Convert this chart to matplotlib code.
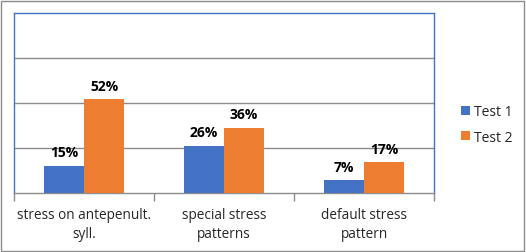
import matplotlib.pyplot as plt
import numpy as np
from matplotlib.patches import Rectangle

categories = ["stress on antepenult.\nsyll.", "special stress\npatterns", "default stress\npattern"]
test1 = [0.15, 0.26, 0.07]
test2 = [0.52, 0.36, 0.17]
series_names = ["Test 1", "Test 2"]

blue = "#4472C4"
orange = "#ED7D31"
plt.rcParams['font.family'] = ['Open Sans', 'DejaVu Sans']

W, H = 526, 253
fig = plt.figure(figsize=(W / 100, H / 100), dpi=100)
fig.patches.append(Rectangle((1 / W, 1 / H), (W - 3) / W, (H - 3) / H, transform=fig.transFigure,
                             fill=False, edgecolor="#8c8c8c", linewidth=1))

# plot area in pixels: x 14..434, y 14..194
ax = fig.add_axes([14 / W, (H - 194) / H, 420 / W, 180 / H])

x = np.arange(len(categories))
bw = 40 / 140
b1 = ax.bar(x - bw / 2, test1, bw, color=blue, label=series_names[0], zorder=3)
b2 = ax.bar(x + bw / 2, test2, bw, color=orange, label=series_names[1], zorder=3)

for bars, vals in ((b1, test1), (b2, test2)):
    for b, v in zip(bars, vals):
        ax.annotate(f"{v:.0%}", (b.get_x() + b.get_width() / 2, v), xytext=(0, 10),
                    textcoords="offset points", ha="center", va="center",
                    fontsize=10, fontweight="bold", color="#000000")

ax.set_xlim(-0.5, 2.5)
ax.set_ylim(0, 1.0)
ax.set_yticks([0.25, 0.5, 0.75])
ax.yaxis.grid(True, color="#8c8c8c", linewidth=1, zorder=0)
ax.tick_params(axis="y", length=0, labelleft=False)

ax.set_xticks([-0.5, 0.5, 1.5, 2.5])
ax.set_xticklabels([])
ax.set_xticks(x, minor=True)
ax.set_xticklabels(categories, minor=True, fontsize=9.8, color="#262626", linespacing=1.4)
ax.tick_params(axis="x", which="major", length=6, color="#8c8c8c", width=1)
ax.tick_params(axis="x", which="minor", length=0, pad=10)

for s in ax.spines.values():
    s.set_color(blue)
    s.set_linewidth(1)
ax.spines["bottom"].set_color("#8c8c8c")

fig.legend(handles=[b1, b2], loc="center left", bbox_to_anchor=(448 / W, 1 - 125.5 / H),
           frameon=False, fontsize=10, handlelength=0.65, handleheight=0.65,
           handletextpad=0.35, labelspacing=0.75, labelcolor="#262626")

fig.savefig("out.png", dpi=100)
